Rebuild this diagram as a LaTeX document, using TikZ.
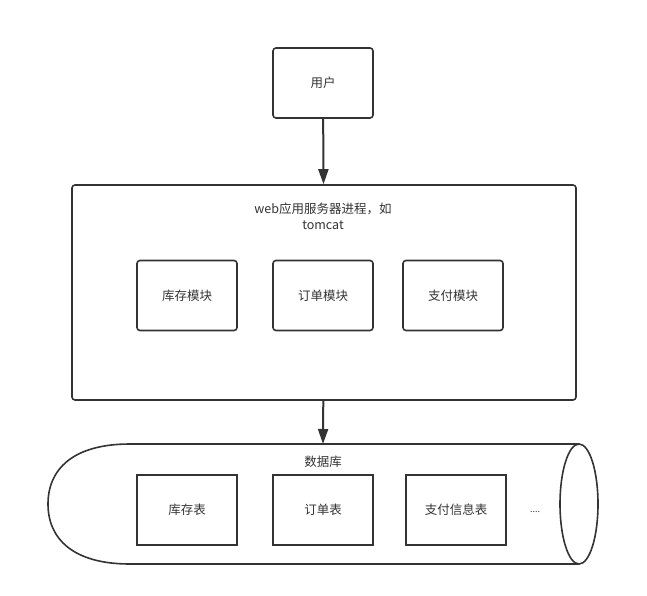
\documentclass[tikz,border=0pt]{standalone}
\usepackage{fontspec}
\setmainfont{Noto Sans CJK SC}
\usetikzlibrary{arrows.meta}

\begin{document}
\begin{tikzpicture}[x=1pt,y=-1pt,
  every node/.style={text=black!80, font=\fontsize{12.5}{16}\selectfont},
  modbox/.style={draw=black!80, line width=1.6pt, rounded corners=3, minimum width=100pt, minimum height=70pt},
  tblbox/.style={draw=black!80, line width=1.6pt, minimum width=100pt, minimum height=70pt},
  link/.style={draw=black!80, line width=2pt, -{Triangle[length=15pt,width=10pt]}}]
\useasboundingbox (0,0) rectangle (647,596);

\node[modbox] (user) at (323,83) {用户};

\node[modbox, minimum width=504pt, minimum height=215pt] (web) at (324,292.5) {};
\node[align=center] (webtitle) at (323,216) {web应用服务器进程，如\\tomcat};
\node[modbox] (stock) at (187,295.5) {库存模块};
\node[modbox] (order) at (323,295.5) {订单模块};
\node[modbox] (pay) at (453,295.5) {支付模块};

% database cylinder
\draw[draw=black!80, line width=1.6pt] (130,444) -- (579,444) (130,564) -- (579,564)
  (130,444) .. controls (72,444) and (48,470) .. (48,504) .. controls (48,538) and (72,564) .. (130,564);
\draw[draw=black!80, line width=1.6pt, fill=white] (579,504) ellipse [x radius=19, y radius=60];
\coordinate (dbtop) at (323,444);
\node (dbtitle) at (323,462) {数据库};
\node[tblbox] (stocktbl) at (187,510) {库存表};
\node[tblbox] (ordertbl) at (323,510) {订单表};
\node[tblbox] (paytbl) at (456,510) {支付信息表};
\node[font=\fontsize{9}{10}\selectfont] (more) at (535,512) {....};

\draw[link] (user) -- (web);
\draw[link] (web) -- (dbtop);
\end{tikzpicture}
\end{document}
